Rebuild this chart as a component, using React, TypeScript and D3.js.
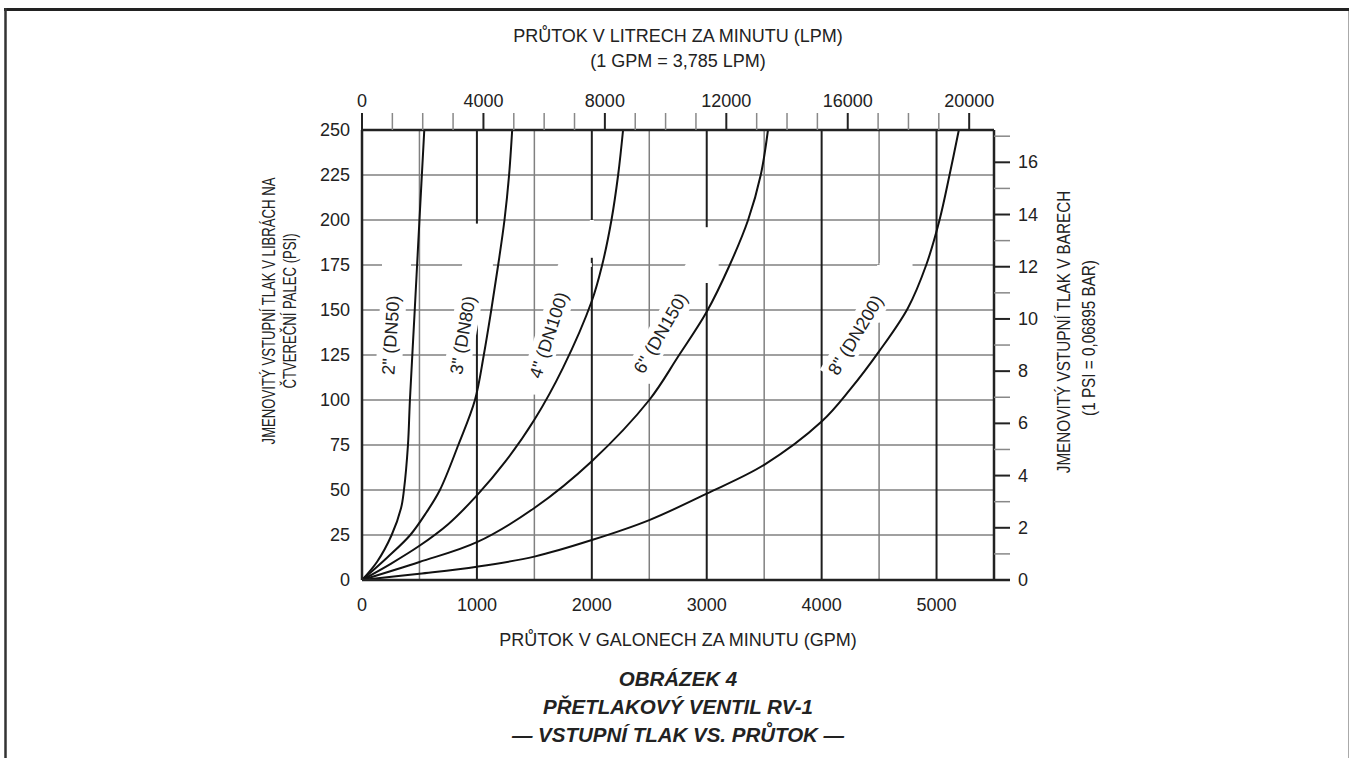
import * as d3 from 'd3';

// flow in GPM (bottom axis) vs inlet pressure in PSI (left axis)
const gpmLabels = [0, 1000, 2000, 3000, 4000, 5000];
const gpmGrid = [500, 1000, 1500, 2000, 2500, 3000, 3500, 4000, 4500, 5000];
const psiLabels = [0, 25, 50, 75, 100, 125, 150, 175, 200, 225, 250];
const lpmLabels = [0, 4000, 8000, 12000, 16000, 20000];
const barLabels = [0, 2, 4, 6, 8, 10, 12, 14, 16];

const GPM_TO_LPM = 3.785;
const PSI_TO_BAR = 0.06895;

const curveNames = ['2" (DN50)', '3" (DN80)', '4" (DN100)', '6" (DN150)', '8" (DN200)'];

// [gpm, psi]
const dn50: [number, number][] = [
  [0, 0], [130, 10], [258, 25], [340, 40], [365, 50], [400, 75], [417, 100],
  [459, 150], [500, 200], [542, 250],
];
const dn80: [number, number][] = [
  [0, 0], [220, 12.5], [420, 25], [560, 37.5], [678, 50], [838, 75], [983, 100],
  [1060, 125], [1125, 150], [1185, 175], [1240, 200], [1280, 225], [1307, 250],
];
const dn100: [number, number][] = [
  [0, 0], [250, 9], [500, 19], [750, 31], [1000, 47], [1250, 66], [1500, 89],
  [1750, 118], [2000, 155], [2090, 175], [2171, 200], [2229, 225], [2272, 250],
];
const dn150: [number, number][] = [
  [0, 0], [500, 10], [1000, 21], [1500, 40], [2000, 66], [2500, 100],
  [2750, 124], [3000, 149], [3200, 175], [3360, 200], [3470, 225], [3533, 250],
];
const dn200: [number, number][] = [
  [0, 0], [500, 3.5], [1000, 7.4], [1500, 13], [2000, 22.2], [2500, 33.3],
  [3000, 48], [3500, 64], [4000, 88], [4250, 106], [4500, 127], [4750, 151],
  [4910, 175], [5026, 200], [5113, 225], [5194, 250],
];
const curves = [dn50, dn80, dn100, dn150, dn200];

// label centre [gpm, psi] and slant (deg)
const labelPos: [number, number, number][] = [
  [252, 136, -86], [878, 136, -80], [1626, 136, -72], [2600, 137, -60], [4296, 136, -59],
];

// white-outs in the grid around the labels
const vGaps: [number, number, number][] = [
  [1000, 144, 198], [1500, 103, 117], [2000, 179, 200], [2500, 109, 133],
  [3000, 165, 196], [4500, 143, 175],
];
const hGaps: [number, number, number][] = [
  [175, 174, 426], [175, 887, 1139], [175, 1722, 2000], [175, 2826, 3104], [175, 4504, 4791],
];

const W = 1349;
const H = 758;
const m = { left: 362, right: 994, top: 130, bottom: 580 };
const font = "'Liberation Sans', Arial, sans-serif";
const fs = 18;

export default function App() {
  const x = d3.scaleLinear().domain([0, 5500]).range([m.left, m.right]);
  const y = d3.scaleLinear().domain([0, 250]).range([m.bottom, m.top]);
  const xTop = d3.scaleLinear().domain([0, 5500 * GPM_TO_LPM]).range([m.left, m.right]);
  const yRight = d3.scaleLinear().domain([0, 250 * PSI_TO_BAR]).range([m.bottom, m.top]);

  const line = d3.line<[number, number]>()
    .x((d) => x(d[0]))
    .y((d) => y(d[1]))
    .curve(d3.curveCatmullRom.alpha(0.5));

  const lpmTicks = d3.range(0, xTop.domain()[1], 1000);
  const barTicks = d3.range(0, yRight.domain()[1], 1);
  const cx = (m.left + m.right) / 2;

  return (
    <svg width={W} height={H} style={{ position: 'absolute', left: 0, top: 0, background: '#fff' }}
      fontFamily={font}>
      {/* frame */}
      <line x1={4} x2={W} y1={9.5} y2={9.5} stroke="#222" strokeWidth={3} />
      <line x1={5.5} x2={5.5} y1={8} y2={H} stroke="#333" strokeWidth={2.5} />
      <line x1={W - 0.5} x2={W - 0.5} y1={11} y2={H} stroke="#aaa" strokeWidth={1} />

      {/* grid */}
      {psiLabels.slice(1, -1).map((p) => (
        <line key={'h' + p} x1={m.left} x2={m.right} y1={y(p)} y2={y(p)} stroke="#808080" strokeWidth={1.5} />
      ))}
      {gpmGrid.map((g) => (
        <line key={'v' + g} x1={x(g)} x2={x(g)} y1={m.top} y2={m.bottom}
          stroke={g % 1000 === 0 ? '#1e1e1e' : '#808080'} strokeWidth={g % 1000 === 0 ? 2 : 1.5} />
      ))}
      {vGaps.map(([g, lo, hi], i) => (
        <line key={'vg' + i} x1={x(g)} x2={x(g)} y1={y(lo)} y2={y(hi)} stroke="#fff" strokeWidth={4} />
      ))}
      {hGaps.map(([p, lo, hi], i) => (
        <line key={'hg' + i} x1={x(lo)} x2={x(hi)} y1={y(p)} y2={y(p)} stroke="#fff" strokeWidth={4} />
      ))}

      {/* label white boxes, running on past the top end of each label */}
      {labelPos.map(([g, p, a], i) => (
        <rect key={'lb' + i} x={-48} y={-13} width={96 + 26} height={26} fill="#fff"
          transform={`translate(${x(g)},${y(p)}) rotate(${a})`} />
      ))}

      {/* curves */}
      {curves.map((c, i) => (
        <path key={'c' + i} d={line(c) ?? ''} fill="none" stroke="#111" strokeWidth={2} />
      ))}

      {/* curve labels */}
      {labelPos.map(([g, p, a], i) => (
        <text key={'lt' + i} transform={`translate(${x(g)},${y(p)}) rotate(${a})`}
          textAnchor="middle" dominantBaseline="central" fontSize={18} fill="#222">
          {curveNames[i]}
        </text>
      ))}

      {/* axes lines */}
      <line x1={m.left} x2={m.right} y1={m.top} y2={m.top} stroke="#222" strokeWidth={2.5} />
      <line x1={m.left} x2={m.right + 16} y1={m.bottom} y2={m.bottom} stroke="#222" strokeWidth={2.5} />
      <line x1={m.left} x2={m.left} y1={m.top} y2={m.bottom} stroke="#222" strokeWidth={2.5} />
      <line x1={m.right} x2={m.right} y1={m.top} y2={m.bottom} stroke="#222" strokeWidth={2.5} />

      {/* top LPM axis */}
      {lpmTicks.map((t) => (
        <line key={'tt' + t} x1={xTop(t)} x2={xTop(t)} y1={m.top} y2={m.top - 17}
          stroke={t % 4000 === 0 ? '#222' : '#888'} strokeWidth={t % 4000 === 0 ? 2 : 1.5} />
      ))}
      {lpmLabels.map((t) => (
        <text key={'tl' + t} x={xTop(t)} y={107} textAnchor="middle" fontSize={fs} fill="#222">{t}</text>
      ))}
      <text x={cx} y={42} textAnchor="middle" fontSize={fs} fill="#222">PRŮTOK V LITRECH ZA MINUTU (LPM)</text>
      <text x={cx} y={67} textAnchor="middle" fontSize={fs} fill="#222">(1 GPM = 3,785 LPM)</text>

      {/* right BAR axis */}
      {barTicks.filter((t) => t > 0).map((t) => (
        <line key={'rt' + t} x1={m.right} x2={m.right + 16} y1={yRight(t)} y2={yRight(t)}
          stroke={t % 2 === 0 ? '#222' : '#888'} strokeWidth={t % 2 === 0 ? 2 : 1.5} />
      ))}
      {barLabels.map((t) => (
        <text key={'rl' + t} x={m.right + 24} y={yRight(t)} dominantBaseline="central" fontSize={fs} fill="#222">{t}</text>
      ))}
      <text transform={`translate(1064,332) rotate(-90) scale(0.85,1)`} textAnchor="middle" dominantBaseline="central" fontSize={fs} fill="#222">
        JMENOVITÝ VSTUPNÍ TLAK V BARECH
      </text>
      <text transform={`translate(1089,338) rotate(-90) scale(0.85,1)`} textAnchor="middle" dominantBaseline="central" fontSize={fs} fill="#222">
        (1 PSI = 0,06895 BAR)
      </text>

      {/* left PSI axis */}
      {psiLabels.map((t) => (
        <text key={'ll' + t} x={m.left - 12} y={y(t)} textAnchor="end" dominantBaseline="central" fontSize={fs} fill="#222">{t}</text>
      ))}
      <text transform={`translate(269,311) rotate(-90) scale(0.73,1)`} textAnchor="middle" dominantBaseline="central" fontSize={18} fill="#222">
        JMENOVITÝ VSTUPNÍ TLAK V LIBRÁCH NA
      </text>
      <text transform={`translate(290,311) rotate(-90) scale(0.73,1)`} textAnchor="middle" dominantBaseline="central" fontSize={18} fill="#222">
        ČTVEREČNÍ PALEC (PSI)
      </text>

      {/* bottom GPM axis */}
      {gpmLabels.map((t) => (
        <text key={'bl' + t} x={x(t)} y={611} textAnchor="middle" fontSize={fs} fill="#222">{t}</text>
      ))}
      <text x={cx} y={646} textAnchor="middle" fontSize={fs} fill="#222">PRŮTOK V GALONECH ZA MINUTU (GPM)</text>

      {/* figure caption */}
      <g fontWeight="bold" fontStyle="italic" fontSize={20.5} fill="#222" textAnchor="middle">
        <text x={cx} y={686}>OBRÁZEK 4</text>
        <text x={cx} y={714}>PŘETLAKOVÝ VENTIL RV-1</text>
        <text x={cx} y={742}>— VSTUPNÍ TLAK VS. PRŮTOK —</text>
      </g>
    </svg>
  );
}
